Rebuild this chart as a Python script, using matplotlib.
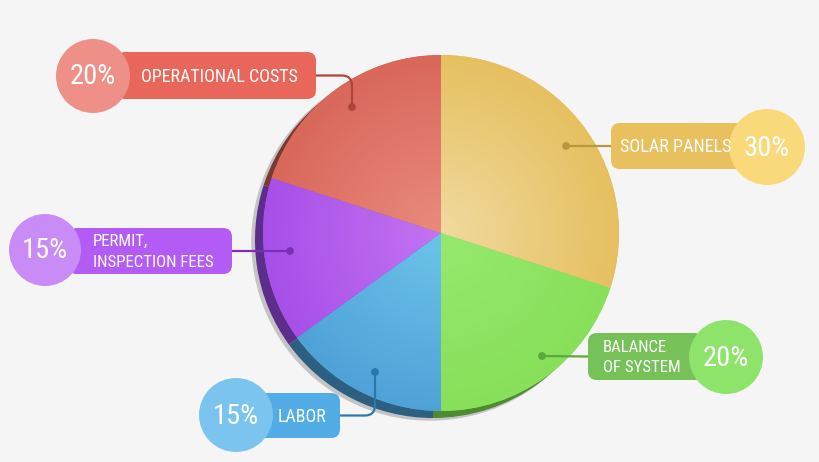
"""Solar cost breakdown pie with callout labels."""

import matplotlib

matplotlib.use("Agg")
import matplotlib.pyplot as plt
import numpy as np
from matplotlib.colors import to_rgb
from matplotlib.patches import Circle, FancyBboxPatch, PathPatch
from matplotlib.path import Path

plt.rcParams["font.family"] = [
    "Liberation Sans Narrow", "DejaVu Sans Condensed", "Roboto Condensed",
    "Liberation Sans", "DejaVu Sans",
]

# data, clockwise from 12 o'clock
categories = ["SOLAR PANELS", "BALANCE\nOF SYSTEM", "LABOR", "PERMIT,\nINSPECTION FEES", "OPERATIONAL COSTS"]
shares = [30, 20, 15, 15, 20]
pct_labels = ["30%", "20%", "15%", "15%", "20%"]

BG = "#F5F5F5"
CX, CY, R = 441, 233, 178

edge_colors = ["#E6C060", "#88E05A", "#4FA2D8", "#A650E8", "#D9675A"]
center_colors = ["#F1DAA0", "#96E96E", "#6CC4EA", "#C473F2", "#E88C7E"]
rim_colors = ["#A88A44", "#4E8A30", "#2D5F80", "#5C2D8A", "#7A3A32"]

# callout layout (pixel coords): box, circle, dot, text anchor, target text width
callouts = [
    dict(box=(611, 123, 141, 46), circ=(767, 147, 38), dot=(566, 146), text_x=676, ha="center",
         width=112, box_c="#E8C05E", circ_c="#F9D97A", line_c="#B8983E", side="right"),
    dict(box=(588, 333, 115, 47), circ=(726, 357, 37), dot=(542, 356), text_x=603, ha="left",
         width=78, box_c="#76C158", circ_c="#8EE36A", line_c="#5AA83E", side="right"),
    dict(box=(258, 393, 82, 45), circ=(236, 415, 37), dot=(375, 372), text_x=302, ha="center",
         width=49, box_c="#52ACE6", circ_c="#7CC4F0", line_c="#2A78B0", side="left"),
    dict(box=(68, 228, 164, 46), circ=(45, 250, 36), dot=(290, 251), text_x=93, ha="left",
         width=122, box_c="#B25CF5", circ_c="#C98CF6", line_c="#7A2FB5", side="left"),
    dict(box=(116, 52, 200, 47), circ=(93, 76, 37), dot=(352, 107), text_x=219, ha="center",
         width=158, box_c="#E8665A", circ_c="#EE9088", line_c="#B0443A", side="left"),
]


def radial_gradient(inner: str, outer: str, n: int = 300) -> np.ndarray:
    yy, xx = np.mgrid[-1:1:n * 1j, -1:1:n * 1j]
    t = np.clip(np.hypot(xx, yy), 0, 1)[..., None]
    return (1 - t) * np.array(to_rgb(inner)) + t * np.array(to_rgb(outer))


def connector_path(start, dot):
    x0, y0 = start
    x1, y1 = dot
    if abs(y0 - y1) < 3:
        return Path([(x0, y0), (x1, y1)], [Path.MOVETO, Path.LINETO])
    sx = np.sign(x1 - x0)
    sy = np.sign(y1 - y0)
    rr = 10
    verts = [(x0, y0), (x1 - sx * rr, y0), (x1, y0), (x1, y0 + sy * rr), (x1, y1)]
    codes = [Path.MOVETO, Path.LINETO, Path.CURVE3, Path.CURVE3, Path.LINETO]
    return Path(verts, codes)


def fit_width(texts, target, renderer, max_size):
    # scale a group of texts so the widest one spans `target` pixels
    widest = max(t.get_window_extent(renderer).width for t in texts)
    size = min(max_size, texts[0].get_fontsize() * target / widest)
    for t in texts:
        t.set_fontsize(size)


fig = plt.figure(figsize=(8.2, 4.62), dpi=100, facecolor=BG)
ax = fig.add_axes([0, 0, 1, 1])
ax.set_facecolor(BG)

# y axis runs downward, so counterclock in data = clockwise on screen
ax.add_patch(Circle((CX - 11, CY + 9), R, color="#C4C4C4", zorder=1))
ax.pie(shares, colors=rim_colors, startangle=-90, counterclock=True,
       center=(CX - 8, CY + 7), radius=R, wedgeprops=dict(linewidth=0, zorder=2))
wedges, _ = ax.pie(shares, colors=edge_colors, startangle=-90, counterclock=True,
                   center=(CX, CY), radius=R, wedgeprops=dict(linewidth=0, zorder=3))
for w, c_in, c_out in zip(wedges, center_colors, edge_colors):
    im = ax.imshow(radial_gradient(c_in, c_out), extent=(CX - R, CX + R, CY + R, CY - R),
                   zorder=4, interpolation="bilinear")
    im.set_clip_path(w)

ax.set_xlim(0, 820)
ax.set_ylim(462, 0)
ax.set_aspect("auto")
ax.axis("off")

groups = []
for name, pct, co in zip(categories, pct_labels, callouts):
    bx, by, bw, bh = co["box"]
    ax.add_patch(FancyBboxPatch((bx, by), bw, bh, boxstyle="round,pad=0,rounding_size=9",
                                fc=co["box_c"], ec="none", zorder=6))
    cx, cy, cr = co["circ"]
    ax.add_patch(Circle((cx, cy), cr, fc=co["circ_c"], ec="none", zorder=7))
    pct_text = ax.text(cx, cy + 1, pct, color="white", fontsize=19, ha="center",
                       va="center", zorder=8)
    lines = name.split("\n")
    mid = by + bh / 2 + 1
    offsets = [0] if len(lines) == 1 else [-10.5, 10.5]
    name_texts = [
        ax.text(co["text_x"], mid + off, line, color="white", fontsize=14, ha=co["ha"],
                va="center", zorder=8)
        for line, off in zip(lines, offsets)
    ]
    groups.append((pct_text, name_texts, co["width"]))
    start = (bx, by + bh / 2) if co["side"] == "right" else (bx + bw, by + bh / 2)
    ax.add_patch(PathPatch(connector_path(start, co["dot"]), fc="none", ec=co["line_c"],
                           lw=1.6, zorder=5, capstyle="round"))
    ax.add_patch(Circle(co["dot"], 3.2, color=co["line_c"], zorder=9))

fig.canvas.draw()
renderer = fig.canvas.get_renderer()
for pct_text, name_texts, width in groups:
    fit_width([pct_text], 46, renderer, 26)
    fit_width(name_texts, width, renderer, 17)

fig.savefig("out.png", dpi=100, facecolor=BG)
